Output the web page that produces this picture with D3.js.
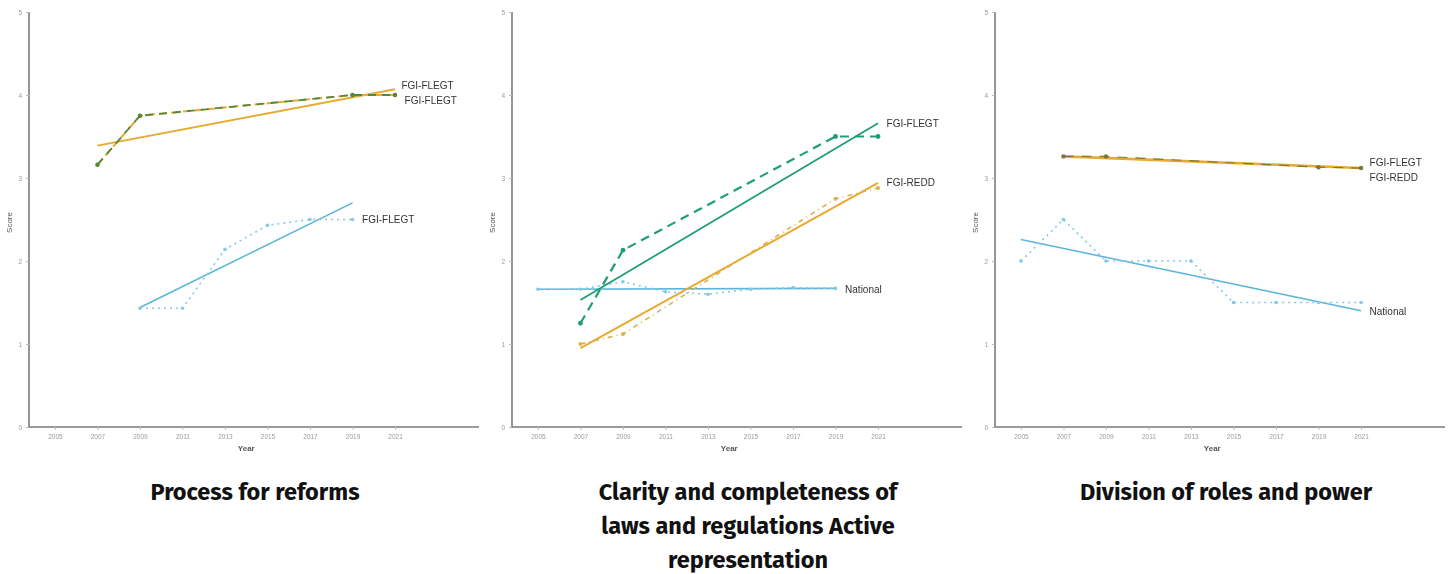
<!DOCTYPE html>
<html>
<head>
<meta charset="utf-8">
<script src="https://cdn.jsdelivr.net/npm/d3@7"></script>
<style>
  html, body { margin: 0; padding: 0; background: #fff; }
  svg { display: block; }
</style>
</head>
<body>
<svg id="chart" width="1456" height="574"></svg>
<script>
// Shared axis settings
const yearTicks = [2005, 2007, 2009, 2011, 2013, 2015, 2017, 2019, 2021];
const scoreTicks = [0, 1, 2, 3, 4, 5];

// Panel titles
const titles = [
  ["Process for reforms"],
  ["Clarity and completeness of", "laws and regulations Active", "representation"],
  ["Division of roles and power"]
];

// Panel 1 — Process for reforms
const p1GreenYears = [2007, 2009, 2019, 2021];
const p1GreenScores = [3.16, 3.75, 4.0, 4.0];
const p1OrangeTrendYears = [2007, 2021];
const p1OrangeTrendScores = [3.39, 4.07];
const p1BlueYears = [2009, 2011, 2013, 2015, 2017, 2019];
const p1BlueScores = [1.43, 1.43, 2.14, 2.43, 2.5, 2.5];
const p1BlueTrendYears = [2009, 2019];
const p1BlueTrendScores = [1.44, 2.70];
const p1Labels = [
  { text: "FGI-FLEGT", year: 2021.3, score: 4.11 },
  { text: "FGI-FLEGT", year: 2021.45, score: 3.93 },
  { text: "FGI-FLEGT", year: 2019.45, score: 2.5 }
];

// Panel 2 — Clarity and completeness of laws and regulations
const p2TealYears = [2007, 2009, 2019, 2021];
const p2TealScores = [1.25, 2.13, 3.5, 3.5];
const p2TealTrendYears = [2007, 2021];
const p2TealTrendScores = [1.53, 3.66];
const p2OrangeYears = [2007, 2009, 2019, 2021];
const p2OrangeScores = [1.0, 1.12, 2.75, 2.88];
const p2OrangeTrendYears = [2007, 2021];
const p2OrangeTrendScores = [0.95, 2.94];
const p2BlueYears = [2005, 2007, 2009, 2011, 2013, 2015, 2017, 2019];
const p2BlueScores = [1.66, 1.66, 1.75, 1.63, 1.6, 1.66, 1.68, 1.67];
const p2BlueTrendYears = [2005, 2019];
const p2BlueTrendScores = [1.66, 1.67];
const p2Labels = [
  { text: "FGI-FLEGT", year: 2021.4, score: 3.66 },
  { text: "FGI-REDD", year: 2021.4, score: 2.94 },
  { text: "National", year: 2019.45, score: 1.66 }
];

// Panel 3 — Division of roles and power
const p3GoldYears = [2007, 2009, 2019, 2021];
const p3GoldScores = [3.26, 3.26, 3.13, 3.12];
const p3GoldTrendYears = [2007, 2021];
const p3GoldTrendScores = [3.26, 3.12];
const p3BlueYears = [2005, 2007, 2009, 2011, 2013, 2015, 2017, 2019, 2021];
const p3BlueScores = [2.0, 2.5, 2.0, 2.0, 2.0, 1.5, 1.5, 1.5, 1.5];
const p3BlueTrendYears = [2005, 2021];
const p3BlueTrendScores = [2.26, 1.40];
const p3Labels = [
  { text: "FGI-FLEGT", year: 2021.4, score: 3.19 },
  { text: "FGI-REDD", year: 2021.4, score: 3.01 },
  { text: "National", year: 2021.4, score: 1.39 }
];

const C = {
  orange: "#e9a930",
  olive: "#4f8a3c",
  teal: "#1f9e78",
  blue: "#5bb5d9",
  blueLight: "#86c9e3",
  axis: "#7a7a7a",
  label: "#333"
};

const svg = d3.select("#chart");
svg.append("defs").append("filter").attr("id", "soft")
  .append("feGaussianBlur").attr("stdDeviation", 0.45);

const zip = (xs, ys) => xs.map((x, i) => ({ year: x, score: ys[i] }));

const panelLefts = [29, 512, 995];
const titleCenters = [255, 748, 1226];
const plotWidth = 450;
const yTop = 12, yBottom = 427;

function makePanel(i, series, labels) {
  const left = panelLefts[i];
  const x = d3.scaleLinear().domain([2003.78, 2024.95]).range([left, left + plotWidth]);
  const y = d3.scaleLinear().domain([0, 5]).range([yBottom, yTop]);
  const g = svg.append("g").attr("filter", "url(#soft)");

  // axes
  const xa = g.append("g").attr("transform", `translate(0,${yBottom})`)
    .call(d3.axisBottom(x).tickValues(yearTicks).tickFormat(d3.format("d")).tickSize(3).tickPadding(4));
  const ya = g.append("g").attr("transform", `translate(${left},0)`)
    .call(d3.axisLeft(y).tickValues(scoreTicks).tickFormat(d3.format("d")).tickSize(3).tickPadding(4));
  [xa, ya].forEach(a => {
    a.select(".domain").attr("stroke", C.axis).attr("stroke-width", 1.6);
    a.selectAll(".tick line").attr("stroke", "#bbb");
    a.selectAll(".tick text").attr("font-family", "Liberation Sans, Arial, sans-serif")
      .attr("font-size", 6.5).attr("fill", "#9a9a9a");
  });
  xa.select(".domain").attr("d", `M${left},0H${left + plotWidth}`);
  ya.select(".domain").attr("d", `M0,${yTop}V${yBottom}`);

  g.append("text").attr("x", x(2014)).attr("y", yBottom + 24)
    .attr("text-anchor", "middle").attr("font-family", "Liberation Sans, Arial, sans-serif")
    .attr("font-size", 8).attr("font-weight", "bold").attr("fill", "#555").text("Year");
  g.append("text").attr("transform", `translate(${left - 17},${(yTop + yBottom) / 2 + 3}) rotate(-90)`)
    .attr("text-anchor", "middle").attr("font-family", "Liberation Sans, Arial, sans-serif")
    .attr("font-size", 8).attr("fill", "#555").text("Score");

  const line = d3.line().x(d => x(d.year)).y(d => y(d.score));
  series.forEach(s => {
    g.append("path").datum(s.data).attr("d", line).attr("fill", "none")
      .attr("stroke", s.color).attr("stroke-width", s.width || 1.6)
      .attr("stroke-dasharray", s.dash || null);
    if (s.points) {
      g.selectAll(null).data(s.data).join("circle")
        .attr("cx", d => x(d.year)).attr("cy", d => y(d.score))
        .attr("r", s.r || 2).attr("fill", s.pointColor || s.color);
    }
  });

  g.selectAll(null).data(labels).join("text")
    .attr("x", d => x(d.year)).attr("y", d => y(d.score))
    .attr("dy", "0.35em").attr("font-family", "Liberation Sans, Arial, sans-serif")
    .attr("font-size", 10).attr("fill", C.label).text(d => d.text);

  // title
  const t = svg.append("text").attr("text-anchor", "middle")
    .attr("font-family", "Fira Sans, Open Sans, Noto Sans, sans-serif")
    .attr("font-weight", "bold").attr("font-size", 23.5).attr("fill", "#111");
  titles[i].forEach((ln, k) => {
    t.append("tspan").attr("x", titleCenters[i]).attr("y", 500 + k * 34).text(ln);
  });
}

makePanel(0, [
  { data: zip(p1OrangeTrendYears, p1OrangeTrendScores), color: C.orange, width: 2 },
  { data: zip(p1GreenYears, p1GreenScores), color: C.orange, width: 2, dash: "8,4", points: true },
  { data: zip(p1GreenYears, p1GreenScores), color: C.olive, width: 1.8, dash: "8,6", points: true, r: 2.2 },
  { data: zip(p1BlueTrendYears, p1BlueTrendScores), color: C.blue, width: 1.6 },
  { data: zip(p1BlueYears, p1BlueScores), color: C.blueLight, width: 1.6, dash: "2,4", points: true, r: 1.8 }
], p1Labels);

makePanel(1, [
  { data: zip(p2BlueTrendYears, p2BlueTrendScores), color: C.blue, width: 1.6 },
  { data: zip(p2BlueYears, p2BlueScores), color: C.blueLight, width: 1.6, dash: "2,4", points: true, r: 1.8 },
  { data: zip(p2OrangeTrendYears, p2OrangeTrendScores), color: C.orange, width: 2 },
  { data: zip(p2OrangeYears, p2OrangeScores), color: "#d9b24a", width: 1.6, dash: "5,4,1,4", points: true, r: 2 },
  { data: zip(p2TealTrendYears, p2TealTrendScores), color: C.teal, width: 1.8 },
  { data: zip(p2TealYears, p2TealScores), color: C.teal, width: 2.2, dash: "9,6", points: true, r: 2.4 }
], p2Labels);

makePanel(2, [
  { data: zip(p3BlueTrendYears, p3BlueTrendScores), color: C.blue, width: 1.6 },
  { data: zip(p3BlueYears, p3BlueScores), color: C.blueLight, width: 1.6, dash: "2,4", points: true, r: 1.8 },
  { data: zip(p3GoldTrendYears, p3GoldTrendScores), color: C.orange, width: 2.6 },
  { data: zip(p3GoldYears, p3GoldScores), color: "#7b7a30", width: 1.2, dash: "10,8", points: true, r: 2.2 }
], p3Labels);
</script>
</body>
</html>
